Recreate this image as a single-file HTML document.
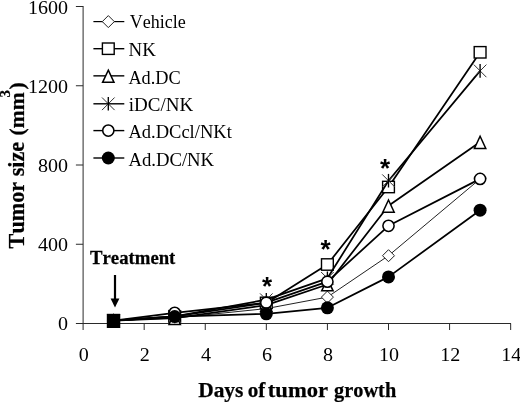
<!DOCTYPE html>
<html><head><meta charset="utf-8"><title>Tumor growth</title>
<style>
html,body{margin:0;padding:0;background:#fff;}
body{width:520px;height:402px;overflow:hidden;}
svg{display:block;}
text{font-kerning:none;font-family:"Liberation Serif",serif;fill:#000;}
.b{font-weight:bold;stroke:#000;stroke-width:0.25px;}
</style></head><body>
<svg width="520" height="402" viewBox="0 0 520 402">
<rect width="520" height="402" fill="#fff"/>

<g stroke="#2a2a2a" stroke-width="1" fill="none">
<path d="M83.1 6V330.0"/>
<path d="M75.89999999999999 323.5H511"/>
<path d="M75.89999999999999 244.25H83.1"/>
<path d="M75.89999999999999 165.00H83.1"/>
<path d="M75.89999999999999 85.75H83.1"/>
<path d="M75.89999999999999 6.50H83.1"/>
<path d="M144.18 323.5V330.0"/>
<path d="M205.26 323.5V330.0"/>
<path d="M266.34 323.5V330.0"/>
<path d="M327.42 323.5V330.0"/>
<path d="M388.50 323.5V330.0"/>
<path d="M449.58 323.5V330.0"/>
<path d="M510.66 323.5V330.0"/>
</g>
<text transform="translate(68 330.4) scale(1.045 1)" font-size="19.2" text-anchor="end">0</text>
<text transform="translate(68 251.2) scale(1.045 1)" font-size="19.2" text-anchor="end">400</text>
<text transform="translate(68 171.9) scale(1.045 1)" font-size="19.2" text-anchor="end">800</text>
<text transform="translate(68 92.7) scale(1.045 1)" font-size="19.2" text-anchor="end">1200</text>
<text transform="translate(68 14.4) scale(1.045 1)" font-size="19.2" text-anchor="end">1600</text>
<text transform="translate(83.7 361) scale(1.045 1)" font-size="19.2" text-anchor="middle">0</text>
<text transform="translate(144.8 361) scale(1.045 1)" font-size="19.2" text-anchor="middle">2</text>
<text transform="translate(205.9 361) scale(1.045 1)" font-size="19.2" text-anchor="middle">4</text>
<text transform="translate(266.9 361) scale(1.045 1)" font-size="19.2" text-anchor="middle">6</text>
<text transform="translate(328.0 361) scale(1.045 1)" font-size="19.2" text-anchor="middle">8</text>
<text transform="translate(389.1 361) scale(1.045 1)" font-size="19.2" text-anchor="middle">10</text>
<text transform="translate(450.2 361) scale(1.045 1)" font-size="19.2" text-anchor="middle">12</text>
<text transform="translate(511.3 361) scale(1.045 1)" font-size="19.2" text-anchor="middle">14</text>
<polyline points="113.6,320.7 174.7,318.0 266.3,308.6 327.4,297.1 388.5,255.7 480.1,178.9" fill="none" stroke="#222" stroke-width="1.0" stroke-linejoin="round"/>
<path d="M107.6 320.7L113.6 314.7L119.6 320.7L113.6 326.7Z" fill="#fff" stroke="#222" stroke-width="1"/>
<path d="M168.7 318.0L174.7 312.0L180.7 318.0L174.7 324.0Z" fill="#fff" stroke="#222" stroke-width="1"/>
<path d="M260.3 308.6L266.3 302.6L272.3 308.6L266.3 314.6Z" fill="#fff" stroke="#222" stroke-width="1"/>
<path d="M321.4 297.1L327.4 291.1L333.4 297.1L327.4 303.1Z" fill="#fff" stroke="#222" stroke-width="1"/>
<path d="M382.5 255.7L388.5 249.7L394.5 255.7L388.5 261.7Z" fill="#fff" stroke="#222" stroke-width="1"/>
<path d="M474.1 178.9L480.1 172.9L486.1 178.9L480.1 184.9Z" fill="#fff" stroke="#222" stroke-width="1"/>
<polyline points="113.6,320.7 174.7,316.4 266.3,302.9 327.4,264.5 388.5,187.0 480.1,52.3" fill="none" stroke="#000" stroke-width="1.75" stroke-linejoin="round"/>
<rect x="107.7" y="315.0" width="11.8" height="11.4" fill="#fff" stroke="#000" stroke-width="1.4"/>
<rect x="168.8" y="310.7" width="11.8" height="11.4" fill="#fff" stroke="#000" stroke-width="1.4"/>
<rect x="260.4" y="297.2" width="11.8" height="11.4" fill="#fff" stroke="#000" stroke-width="1.4"/>
<rect x="321.5" y="258.8" width="11.8" height="11.4" fill="#fff" stroke="#000" stroke-width="1.4"/>
<rect x="382.6" y="181.3" width="11.8" height="11.4" fill="#fff" stroke="#000" stroke-width="1.4"/>
<rect x="474.2" y="46.6" width="11.8" height="11.4" fill="#fff" stroke="#000" stroke-width="1.4"/>
<polyline points="113.6,320.7 174.7,318.2 266.3,305.1 327.4,284.5 388.5,205.8 480.1,142.0" fill="none" stroke="#000" stroke-width="1.75" stroke-linejoin="round"/>
<path d="M113.6 314.93L119.3 327.13L107.9 327.13Z" fill="#fff" stroke="#000" stroke-width="1.5"/>
<path d="M174.7 312.35L180.4 324.55L169.0 324.55Z" fill="#fff" stroke="#000" stroke-width="1.5"/>
<path d="M266.3 299.27L272.0 311.47L260.6 311.47Z" fill="#fff" stroke="#000" stroke-width="1.5"/>
<path d="M327.4 278.67L333.1 290.87L321.7 290.87Z" fill="#fff" stroke="#000" stroke-width="1.5"/>
<path d="M388.5 200.01L394.2 212.21L382.8 212.21Z" fill="#fff" stroke="#000" stroke-width="1.5"/>
<path d="M480.1 136.22L485.8 148.42L474.4 148.42Z" fill="#fff" stroke="#000" stroke-width="1.5"/>
<polyline points="113.6,320.7 174.7,316.4 266.3,299.7 327.4,278.3 388.5,180.7 480.1,70.9" fill="none" stroke="#000" stroke-width="1.75" stroke-linejoin="round"/>
<path d="M107.3 314.4L119.9 327.0M107.3 327.0L119.9 314.4" stroke="#333" stroke-width="1" fill="none"/><path d="M113.6 313.9L113.6 327.5" stroke="#000" stroke-width="1.35" fill="none"/>
<path d="M168.4 310.1L181.0 322.7M168.4 322.7L181.0 310.1" stroke="#333" stroke-width="1" fill="none"/><path d="M174.7 309.6L174.7 323.2" stroke="#000" stroke-width="1.35" fill="none"/>
<path d="M260.0 293.4L272.6 306.0M260.0 306.0L272.6 293.4" stroke="#333" stroke-width="1" fill="none"/><path d="M266.3 292.9L266.3 306.5" stroke="#000" stroke-width="1.35" fill="none"/>
<path d="M321.1 272.0L333.7 284.6M321.1 284.6L333.7 272.0" stroke="#333" stroke-width="1" fill="none"/><path d="M327.4 271.5L327.4 285.1" stroke="#000" stroke-width="1.35" fill="none"/>
<path d="M382.2 174.4L394.8 187.0M382.2 187.0L394.8 174.4" stroke="#333" stroke-width="1" fill="none"/><path d="M388.5 173.9L388.5 187.5" stroke="#000" stroke-width="1.35" fill="none"/>
<path d="M473.8 64.6L486.4 77.2M473.8 77.2L486.4 64.6" stroke="#333" stroke-width="1" fill="none"/><path d="M480.1 64.1L480.1 77.7" stroke="#000" stroke-width="1.35" fill="none"/>
<polyline points="113.6,320.7 174.7,312.8 266.3,302.7 327.4,281.7 388.5,225.8 480.1,178.9" fill="none" stroke="#000" stroke-width="1.75" stroke-linejoin="round"/>
<circle cx="113.6" cy="320.7" r="5.6" fill="#fff" stroke="#000" stroke-width="1.55"/>
<circle cx="174.7" cy="312.8" r="5.6" fill="#fff" stroke="#000" stroke-width="1.55"/>
<circle cx="266.3" cy="302.7" r="5.6" fill="#fff" stroke="#000" stroke-width="1.55"/>
<circle cx="327.4" cy="281.7" r="5.6" fill="#fff" stroke="#000" stroke-width="1.55"/>
<circle cx="388.5" cy="225.8" r="5.6" fill="#fff" stroke="#000" stroke-width="1.55"/>
<circle cx="480.1" cy="178.9" r="5.6" fill="#fff" stroke="#000" stroke-width="1.55"/>
<polyline points="113.6,320.7 174.7,316.6 266.3,313.8 327.4,307.8 388.5,276.9 480.1,210.2" fill="none" stroke="#000" stroke-width="1.75" stroke-linejoin="round"/>
<circle cx="113.6" cy="320.7" r="6.5" fill="#000"/>
<circle cx="174.7" cy="316.6" r="6.5" fill="#000"/>
<circle cx="266.3" cy="313.8" r="6.5" fill="#000"/>
<circle cx="327.4" cy="307.8" r="6.5" fill="#000"/>
<circle cx="388.5" cy="276.9" r="6.5" fill="#000"/>
<circle cx="480.1" cy="210.2" r="6.5" fill="#000"/>
<rect x="106.8" y="313.8" width="13.3" height="13.9" fill="#000"/>
<path d="M93.4 21.6H124.3" stroke="#000" stroke-width="1.2"/>
<path d="M102.3 21.6L108.3 15.6L114.3 21.6L108.3 27.6Z" fill="#fff" stroke="#222" stroke-width="1"/>
<text x="129.8" y="28.1" font-size="19" textLength="56.0" lengthAdjust="spacingAndGlyphs">Vehicle</text>
<path d="M93.4 48.7H124.3" stroke="#000" stroke-width="1.4"/>
<rect x="102.4" y="43.0" width="11.8" height="11.4" fill="#fff" stroke="#000" stroke-width="1.4"/>
<text x="128.6" y="55.8" font-size="19" textLength="27.3" lengthAdjust="spacingAndGlyphs">NK</text>
<path d="M93.4 75.85H124.3" stroke="#000" stroke-width="1.4"/>
<path d="M108.3 70.15L114.0 82.35L102.6 82.35Z" fill="#fff" stroke="#000" stroke-width="1.5"/>
<text x="128.4" y="83.5" font-size="19" textLength="52.3" lengthAdjust="spacingAndGlyphs">Ad.DC</text>
<path d="M93.4 103.8H124.3" stroke="#000" stroke-width="1.4"/>
<path d="M102.0 97.5L114.6 110.1M102.0 110.1L114.6 97.5" stroke="#333" stroke-width="1" fill="none"/><path d="M108.3 97.0L108.3 110.6" stroke="#000" stroke-width="1.35" fill="none"/>
<text x="128.8" y="110.9" font-size="19" textLength="64.4" lengthAdjust="spacingAndGlyphs">iDC/NK</text>
<path d="M93.4 130.6H124.3" stroke="#000" stroke-width="1.4"/>
<circle cx="108.3" cy="130.6" r="5.6" fill="#fff" stroke="#000" stroke-width="1.55"/>
<text x="128.4" y="138.0" font-size="19" textLength="103.4" lengthAdjust="spacingAndGlyphs">Ad.DCcl/NKt</text>
<path d="M93.4 158.0H124.3" stroke="#000" stroke-width="1.4"/>
<circle cx="108.3" cy="158.0" r="6.5" fill="#000"/>
<text x="128.4" y="165.5" font-size="19" textLength="85.7" lengthAdjust="spacingAndGlyphs">Ad.DC/NK</text>
<text class="b" transform="translate(90.00 263.7) scale(0.9770 1)" font-size="19.2">Treatment</text>
<path d="M115 275V301" stroke="#000" stroke-width="2.2"/><path d="M110.6 298.5L115 307.5L119.4 298.5Z" fill="#000"/>
<text x="261.9" y="294.5" font-size="26" font-weight="bold" style="font-family:'Liberation Sans',sans-serif">*</text>
<text x="320.5" y="258.0" font-size="26" font-weight="bold" style="font-family:'Liberation Sans',sans-serif">*</text>
<text x="380.0" y="176.7" font-size="26" font-weight="bold" style="font-family:'Liberation Sans',sans-serif">*</text>
<text class="b" y="397.3" font-size="22"><tspan x="198.20" textLength="45.24" lengthAdjust="spacingAndGlyphs">Days</tspan> <tspan x="247.64" textLength="17.62" lengthAdjust="spacingAndGlyphs">of</tspan> <tspan x="267.77" textLength="60.30" lengthAdjust="spacingAndGlyphs">tumor</tspan> <tspan x="334.08" textLength="62.13" lengthAdjust="spacingAndGlyphs">growth</tspan></text>
<text class="b" transform="translate(23.5 0) rotate(-90)" font-size="21.5"><tspan x="-248.4" y="0" font-size="22.2">Tumor size </tspan><tspan x="-135.4" y="0">(mm</tspan><tspan x="-97.4" y="-13.6" font-size="15">3</tspan><tspan x="-89.6" y="0">)</tspan></text>
</svg></body></html>
